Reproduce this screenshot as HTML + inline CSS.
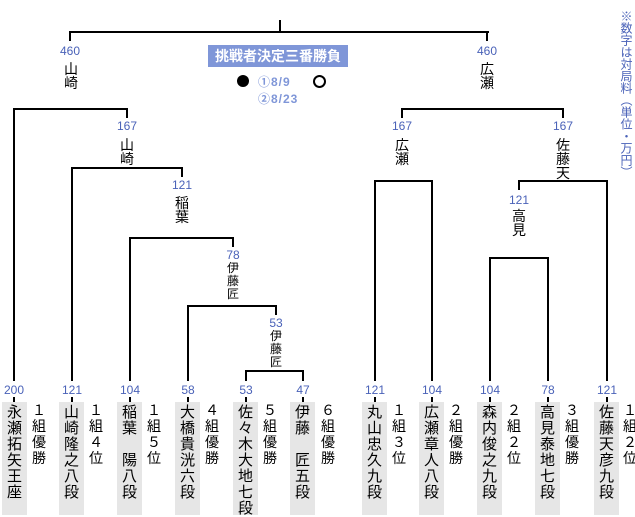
<!DOCTYPE html>
<html><head><meta charset="utf-8"><style>
body{margin:0;width:635px;height:515px;background:#fff;position:relative;overflow:hidden;font-family:"Liberation Sans","Noto Sans CJK JP",sans-serif;}
.h,.v{position:absolute;background:#000;}
.h{height:2px}.v{width:2px}
.n{position:absolute;color:#4a62b8;font-size:12px;width:40px;text-align:center;line-height:11px;}
.c{position:absolute;text-align:center;color:#000;}
.box{position:absolute;top:402px;width:25px;height:113px;background:#e6e6e6;font-size:15px;line-height:16px;text-align:center;padding-top:3px;box-sizing:border-box;}
.g{position:absolute;top:402px;width:16px;font-size:14px;line-height:16px;text-align:center;}
</style></head><body>
<!-- top -->
<div class="v" style="left:279px;top:20px;height:13px"></div>
<div class="h" style="left:69px;top:31px;width:420px"></div>
<div class="v" style="left:69px;top:31px;height:10px"></div>
<div class="v" style="left:486px;top:31px;height:10px"></div>
<div class="n" style="left:50px;top:46px">460</div>
<div class="n" style="left:467px;top:46px">460</div>
<div class="c" style="left:60px;top:62px;width:22px;font-size:14px;line-height:14px">山<br>崎</div>
<div class="c" style="left:476px;top:62px;width:22px;font-size:14px;line-height:14px">広<br>瀬</div>
<div style="position:absolute;left:208px;top:45px;width:140px;height:22px;background:#7f96d8;color:#fff;font-weight:bold;font-size:14px;line-height:22px;text-align:center">挑戦者決定三番勝負</div>
<div style="position:absolute;left:237px;top:75px;width:12px;height:12px;border-radius:50%;background:#000"></div>
<div style="position:absolute;left:258px;top:73px;color:#7f96d8;font-size:12px;font-weight:bold;letter-spacing:1px">①8/9</div>
<div style="position:absolute;left:313px;top:75px;width:9px;height:9px;border-radius:50%;border:2px solid #000"></div>
<div style="position:absolute;left:258px;top:90px;color:#7f96d8;font-size:12px;font-weight:bold;letter-spacing:1px">②8/23</div>
<div style="position:absolute;left:619px;top:10px;color:#4a62b8;font-size:12px;line-height:14px;writing-mode:vertical-rl">※数字は対局料（単位・万円）</div>
<!-- left tree -->
<div class="h" style="left:13px;top:108px;width:115px"></div>
<div class="v" style="left:126px;top:108px;height:10px"></div>
<div class="n" style="left:107px;top:121px">167</div>
<div class="c" style="left:116px;top:138px;width:22px;font-size:14px;line-height:14px">山<br>崎</div>
<div class="h" style="left:71px;top:167px;width:112px"></div>
<div class="v" style="left:181px;top:167px;height:10px"></div>
<div class="n" style="left:162px;top:180px">121</div>
<div class="c" style="left:171px;top:196px;width:22px;font-size:14px;line-height:14px">稲<br>葉</div>
<div class="h" style="left:129px;top:237px;width:105px"></div>
<div class="v" style="left:232px;top:237px;height:10px"></div>
<div class="n" style="left:213px;top:250px">78</div>
<div class="c" style="left:222px;top:262px;width:22px;font-size:12px;line-height:13px">伊<br>藤<br>匠</div>
<div class="h" style="left:187px;top:305px;width:90px"></div>
<div class="v" style="left:275px;top:305px;height:10px"></div>
<div class="n" style="left:256px;top:318px">53</div>
<div class="c" style="left:265px;top:330px;width:22px;font-size:12px;line-height:13px">伊<br>藤<br>匠</div>
<div class="h" style="left:245px;top:370px;width:59px"></div>
<!-- right tree -->
<div class="h" style="left:401px;top:108px;width:163px"></div>
<div class="v" style="left:401px;top:108px;height:10px"></div>
<div class="v" style="left:562px;top:108px;height:10px"></div>
<div class="n" style="left:382px;top:121px">167</div>
<div class="n" style="left:543px;top:121px">167</div>
<div class="c" style="left:391px;top:138px;width:22px;font-size:14px;line-height:14px">広<br>瀬</div>
<div class="c" style="left:552px;top:138px;width:22px;font-size:14px;line-height:14px">佐<br>藤<br>天</div>
<div class="h" style="left:374px;top:180px;width:59px"></div>
<div class="h" style="left:518px;top:180px;width:90px"></div>
<div class="v" style="left:518px;top:180px;height:10px"></div>
<div class="n" style="left:499px;top:195px">121</div>
<div class="c" style="left:508px;top:209px;width:22px;font-size:14px;line-height:14px">高<br>見</div>
<div class="h" style="left:489px;top:257px;width:60px"></div>
<!-- leaves -->
<div class="v" style="left:13px;top:108px;height:273px"></div>
<div class="v" style="left:71px;top:167px;height:214px"></div>
<div class="v" style="left:129px;top:237px;height:144px"></div>
<div class="v" style="left:187px;top:305px;height:76px"></div>
<div class="v" style="left:245px;top:370px;height:11px"></div>
<div class="v" style="left:302px;top:370px;height:11px"></div>
<div class="v" style="left:374px;top:180px;height:201px"></div>
<div class="v" style="left:431px;top:180px;height:201px"></div>
<div class="v" style="left:489px;top:257px;height:124px"></div>
<div class="v" style="left:547px;top:257px;height:124px"></div>
<div class="v" style="left:606px;top:180px;height:201px"></div>

<div class="n" style="left:-6px;top:385px">200</div><div class="v" style="left:13px;top:397px;height:6px"></div>
<div class="box" style="left:2px">永<br>瀬<br>拓<br>矢<br>王<br>座</div><div class="g" style="left:31px">１<br>組<br>優<br>勝</div>
<div class="n" style="left:52px;top:385px">121</div><div class="v" style="left:71px;top:397px;height:6px"></div>
<div class="box" style="left:59px">山<br>崎<br>隆<br>之<br>八<br>段</div><div class="g" style="left:88px">１<br>組<br>４<br>位</div>
<div class="n" style="left:110px;top:385px">104</div><div class="v" style="left:129px;top:397px;height:6px"></div>
<div class="box" style="left:117px">稲<br>葉<br>　<br>陽<br>八<br>段</div><div class="g" style="left:146px">１<br>組<br>５<br>位</div>
<div class="n" style="left:168px;top:385px">58</div><div class="v" style="left:187px;top:397px;height:6px"></div>
<div class="box" style="left:175px">大<br>橋<br>貴<br>洸<br>六<br>段</div><div class="g" style="left:204px">４<br>組<br>優<br>勝</div>
<div class="n" style="left:226px;top:385px">53</div><div class="v" style="left:245px;top:397px;height:6px"></div>
<div class="box" style="left:233px">佐<br>々<br>木<br>大<br>地<br>七<br>段</div><div class="g" style="left:262px">５<br>組<br>優<br>勝</div>
<div class="n" style="left:283px;top:385px">47</div><div class="v" style="left:302px;top:397px;height:6px"></div>
<div class="box" style="left:290px">伊<br>藤<br>　<br>匠<br>五<br>段</div><div class="g" style="left:320px">６<br>組<br>優<br>勝</div>
<div class="n" style="left:355px;top:385px">121</div><div class="v" style="left:374px;top:397px;height:6px"></div>
<div class="box" style="left:362px">丸<br>山<br>忠<br>久<br>九<br>段</div><div class="g" style="left:391px">１<br>組<br>３<br>位</div>
<div class="n" style="left:412px;top:385px">104</div><div class="v" style="left:431px;top:397px;height:6px"></div>
<div class="box" style="left:419px">広<br>瀬<br>章<br>人<br>八<br>段</div><div class="g" style="left:448px">２<br>組<br>優<br>勝</div>
<div class="n" style="left:470px;top:385px">104</div><div class="v" style="left:489px;top:397px;height:6px"></div>
<div class="box" style="left:477px">森<br>内<br>俊<br>之<br>九<br>段</div><div class="g" style="left:506px">２<br>組<br>２<br>位</div>
<div class="n" style="left:528px;top:385px">78</div><div class="v" style="left:547px;top:397px;height:6px"></div>
<div class="box" style="left:535px">高<br>見<br>泰<br>地<br>七<br>段</div><div class="g" style="left:564px">３<br>組<br>優<br>勝</div>
<div class="n" style="left:587px;top:385px">121</div><div class="v" style="left:606px;top:397px;height:6px"></div>
<div class="box" style="left:594px">佐<br>藤<br>天<br>彦<br>九<br>段</div><div class="g" style="left:622px">１<br>組<br>２<br>位</div>
</body></html>
